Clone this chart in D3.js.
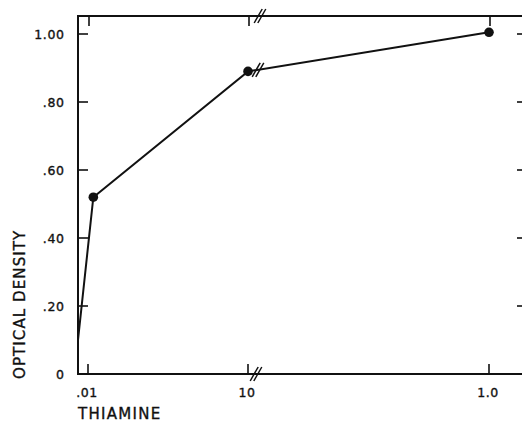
<!DOCTYPE html>
<html>
<head>
<meta charset="utf-8">
<script src="https://cdn.jsdelivr.net/npm/d3@7"></script>
<style>
  html, body { margin: 0; padding: 0; background: #fff; }
  svg { display: block; }
  text { font-family: "DejaVu Sans", sans-serif; fill: #111; stroke: #111; stroke-width: 0.35px; }
</style>
</head>
<body>
<script>
// ---- data ----
const thiamine = [0, 0.013, 0.1, 1.0];
const opticalDensity = [0.10, 0.52, 0.89, 1.005];
const markedPoints = [1, 2, 3];           // indices drawn with dots
const xTickValues = [0.01, 0.1, 1.0];
const xTickLabels = [".01", "10", "1.0"];
const yTickValues = [0, 0.2, 0.4, 0.6, 0.8, 1.0];
const yTickLabels = ["0", ".20", ".40", ".60", ".80", "1.00"];

(function () {
const W = 522, H = 423;
const svg = d3.select("body").append("svg").attr("width", W).attr("height", H);

const mLeft = 78, mRight = 527, mTop = 16, mBottom = 374;
const x = d3.scaleLinear().domain([0, 0.01, 0.1, 1.0]).range([mLeft, 88, 248, 489]);
const y = d3.scaleLinear().domain([0, 1]).range([mBottom, 34]);

const ink = "#111";
const g = svg.append("g");

// frame
g.append("path")
  .attr("d", `M${mLeft},${mTop}H${mRight}V${mBottom}H${mLeft}Z`)
  .attr("fill", "none").attr("stroke", ink).attr("stroke-width", 2);

// ticks (pointing inward)
const tl = 10;
yTickValues.forEach(v => {
  g.append("line").attr("x1", mLeft).attr("x2", mLeft + tl).attr("y1", y(v)).attr("y2", y(v))
    .attr("stroke", ink).attr("stroke-width", 1.6);
  g.append("line").attr("x1", mRight).attr("x2", mRight - tl).attr("y1", y(v)).attr("y2", y(v))
    .attr("stroke", ink).attr("stroke-width", 1.6);
});
xTickValues.forEach(v => {
  g.append("line").attr("x1", x(v)).attr("x2", x(v)).attr("y1", mBottom).attr("y2", mBottom - tl)
    .attr("stroke", ink).attr("stroke-width", 1.6);
  g.append("line").attr("x1", x(v) + 1).attr("x2", x(v) + 1).attr("y1", mTop).attr("y2", mTop + tl)
    .attr("stroke", ink).attr("stroke-width", 1.6);
});

// tick labels
yTickValues.forEach((v, i) => {
  g.append("text").attr("x", 64.5).attr("y", y(v)).attr("dy", "0.36em")
    .attr("text-anchor", "end").attr("font-size", 12.5).attr("letter-spacing", 0.6)
    .text(yTickLabels[i]);
});
xTickValues.forEach((v, i) => {
  g.append("text").attr("x", x(v) - 1).attr("y", 397)
    .attr("text-anchor", "middle").attr("font-size", 12.5).attr("letter-spacing", 0.6)
    .text(xTickLabels[i]);
});

// axis titles
g.append("text").attr("x", 78).attr("y", 419).attr("font-size", 15).attr("letter-spacing", 1.3)
  .text("THIAMINE");
g.append("text").attr("transform", "translate(25,379) rotate(-90)")
  .attr("font-size", 15).attr("letter-spacing", 1.1)
  .text("OPTICAL DENSITY");

// data line
const pts = thiamine.map((t, i) => [x(t), y(opticalDensity[i])]);
g.append("path").attr("d", d3.line()(pts))
  .attr("fill", "none").attr("stroke", ink).attr("stroke-width", 2);

markedPoints.forEach(i => {
  g.append("circle").attr("cx", pts[i][0]).attr("cy", pts[i][1]).attr("r", 4.8).attr("fill", ink);
});

// break marks "//"
function breakMark(cx, cy) {
  [-1.8, 1.8].forEach(off => {
    g.append("line")
      .attr("x1", cx + off - 4).attr("y1", cy + 7)
      .attr("x2", cx + off + 4).attr("y2", cy - 7)
      .attr("stroke", ink).attr("stroke-width", 1.5);
  });
}
breakMark(x(0.1) + 12, mTop);
breakMark(x(0.1) + 8, mBottom);
const bx = x(0.1) + 10;
const by = y(opticalDensity[2]) + (y(opticalDensity[3]) - y(opticalDensity[2])) * (10 / (x(1.0) - x(0.1)));
breakMark(bx, by);
})();
</script>
</body>
</html>
